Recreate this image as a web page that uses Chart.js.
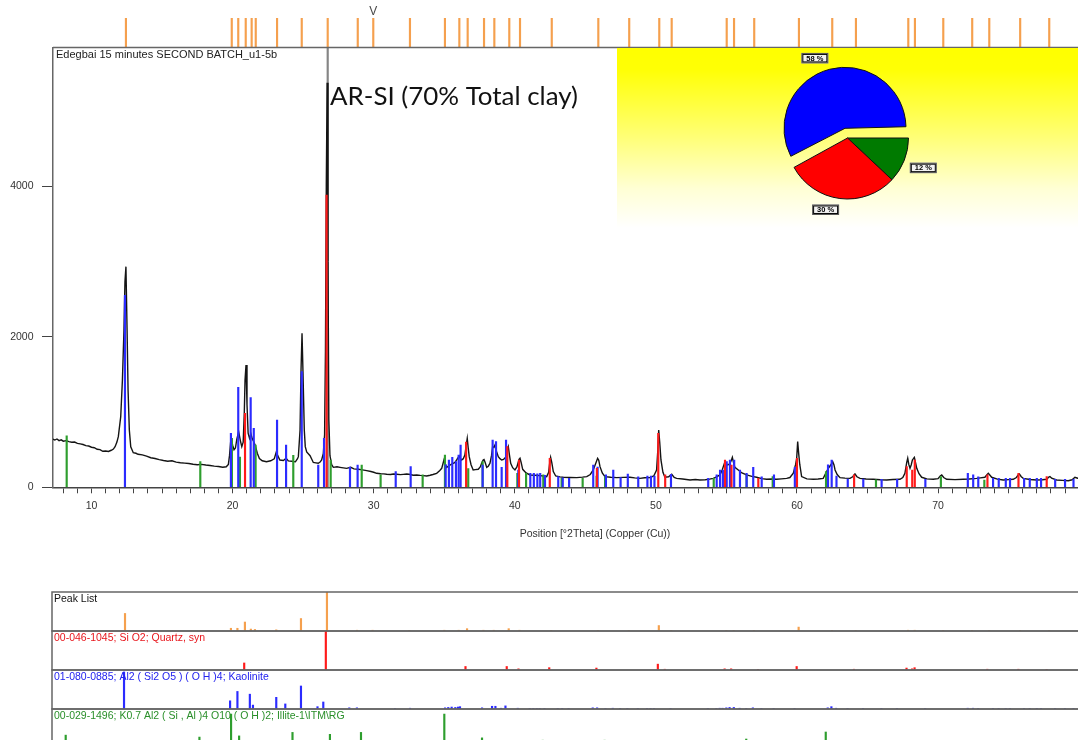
<!DOCTYPE html>
<html>
<head>
<meta charset="utf-8">
<title>Edegbai 15 minutes SECOND BATCH_u1-5b</title>
<script src="https://cdn.jsdelivr.net/npm/chart.js@4.4.0/dist/chart.umd.min.js"></script>
<style>
  html, body { margin: 0; padding: 0; background: #fff; overflow: hidden; }
  #stage { position: relative; width: 1078px; height: 740px; overflow: hidden; background: #fff; }
  #stage canvas { position: absolute; }
</style>
</head>
<body>
<div id="stage">
  <canvas id="markers" width="1140" height="48" style="left:0;top:0;width:1140px;height:48px"></canvas>
  <canvas id="main" width="1140" height="520" style="left:0;top:40px;width:1140px;height:520px"></canvas>
  <canvas id="pie" width="461" height="180" style="left:617px;top:48px;width:461px;height:180px"></canvas>
</div>
<script>
// ---- measured pattern: [°2Theta, counts] ----
const pattern = [
  [7.27,640],[7.40,628],[7.55,642],[7.70,620],[7.85,630],[8.00,612],[8.20,619],[8.40,606],[8.60,598],[8.80,601],
  [9.00,584],[9.20,577],[9.40,568],[9.60,553],[9.80,548],[10.00,532],[10.20,526],[10.40,505],[10.60,500],[10.80,478],
  [11.00,482],[11.20,476],[11.40,492],[11.55,508],[11.67,539],[11.80,600],[11.90,672],[12.07,938],[12.19,1425],[12.30,2088],
  [12.37,2730],[12.44,2930],[12.52,2088],[12.59,1292],[12.68,761],[12.78,539],[12.96,460],[13.15,452],[13.30,438],[13.60,430],
  [13.90,415],[14.20,393],[14.50,382],[14.80,368],[15.10,356],[15.40,346],[15.70,352],[16.00,334],[16.30,326],[16.60,321],
  [16.90,316],[17.20,306],[17.50,300],[17.80,305],[18.10,296],[18.40,290],[18.70,281],[19.00,277],[19.30,266],[19.55,272],
  [19.70,305],[19.78,420],[19.86,600],[19.92,640],[20.00,560],[20.10,498],[20.20,522],[20.30,640],[20.43,738],[20.55,620],
  [20.65,540],[20.75,600],[20.83,1000],[20.88,1420],[20.95,1624],[21.02,1100],[21.10,720],[21.20,650],[21.30,708],[21.40,640],
  [21.50,605],[21.60,560],[21.75,452],[21.90,382],[22.10,352],[22.40,340],[22.70,352],[22.95,378],[23.10,473],[23.20,420],
  [23.35,362],[23.60,356],[23.79,385],[23.95,350],[24.20,345],[24.45,338],[24.60,380],[24.66,407],[24.78,761],[24.85,1557],
  [24.92,2044],[24.99,1513],[25.08,761],[25.15,540],[25.25,470],[25.49,420],[25.72,330],[25.90,325],[26.07,319],[26.20,335],
  [26.31,363],[26.43,451],[26.52,700],[26.58,1800],[26.64,4000],[26.70,5371],[26.76,3000],[26.82,900],[26.90,420],[27.02,300],
  [27.14,265],[27.40,272],[27.61,265],[27.85,258],[28.08,252],[28.37,265],[28.60,245],[28.91,239],[29.20,232],[29.50,221],
  [29.80,210],[30.00,200],[30.21,186],[30.50,180],[30.70,178],[30.92,173],[31.20,170],[31.40,176],[31.63,173],[31.90,168],
  [32.10,172],[32.34,177],[32.60,170],[32.80,160],[33.05,164],[33.30,158],[33.50,155],[33.76,150],[34.00,160],[34.20,170],
  [34.46,186],[34.65,215],[34.82,252],[34.98,363],[35.10,300],[35.17,265],[35.30,280],[35.41,296],[35.55,310],[35.64,319],
  [35.76,330],[35.88,363],[35.97,390],[36.06,416],[36.15,380],[36.23,363],[36.35,380],[36.46,429],[36.56,560],[36.63,650],
  [36.70,520],[36.77,407],[36.90,300],[37.05,230],[37.20,235],[37.41,239],[37.55,270],[37.65,319],[37.76,363],[37.82,370],
  [37.90,330],[38.01,265],[38.12,280],[38.24,319],[38.35,420],[38.43,540],[38.52,530],[38.60,562],[38.70,480],[38.83,407],
  [38.95,380],[39.07,363],[39.20,370],[39.30,390],[39.38,407],[39.47,500],[39.54,540],[39.62,430],[39.71,319],[39.85,260],
  [40.01,230],[40.15,270],[40.30,370],[40.37,385],[40.45,330],[40.56,239],[40.80,190],[41.08,164],[41.40,160],[41.79,155],
  [42.00,150],[42.26,142],[42.40,200],[42.48,330],[42.54,398],[42.62,330],[42.73,208],[42.90,150],[43.20,138],[43.44,133],
  [43.90,130],[44.39,128],[44.80,135],[45.10,142],[45.35,170],[45.56,230],[45.70,300],[45.87,385],[45.95,360],[46.04,274],
  [46.20,190],[46.39,142],[46.80,133],[47.22,128],[47.70,132],[48.16,133],[48.50,125],[48.87,119],[49.20,126],[49.58,128],
  [49.85,150],[50.05,230],[50.14,500],[50.20,761],[50.27,600],[50.36,363],[50.50,200],[50.64,133],[50.90,140],[51.12,173],
  [51.30,130],[51.47,119],[51.90,110],[52.42,97],[52.80,104],[53.12,97],[53.50,100],[53.80,108],[54.07,119],[54.30,140],
  [54.54,164],[54.70,230],[54.90,341],[55.06,296],[55.15,300],[55.25,319],[55.35,360],[55.42,398],[55.50,330],[55.60,265],
  [55.84,230],[56.10,190],[56.43,164],[56.80,145],[57.14,133],[57.50,115],[57.85,106],[58.20,110],[58.56,106],[58.90,112],
  [59.27,119],[59.50,130],[59.74,186],[59.90,300],[59.98,385],[60.05,606],[60.12,450],[60.20,300],[60.33,142],[60.70,112],
  [61.16,106],[61.50,110],[61.86,119],[62.10,208],[62.25,260],[62.39,296],[62.53,341],[62.62,300],[62.70,230],[62.85,170],
  [63.05,128],[63.40,122],[63.76,119],[63.95,140],[64.11,177],[64.25,140],[64.47,119],[64.90,110],[65.41,106],[65.90,100],
  [66.36,97],[66.80,104],[67.30,106],[67.50,130],[67.65,186],[67.78,330],[67.85,385],[67.93,300],[68.01,252],[68.10,300],
  [68.18,363],[68.25,380],[68.32,398],[68.40,330],[68.49,252],[68.65,180],[68.84,133],[69.20,112],[69.66,106],[70.00,115],
  [70.15,150],[70.26,164],[70.40,130],[70.61,106],[71.20,102],[71.79,106],[72.20,110],[72.74,119],[73.00,125],[73.32,133],
  [73.45,165],[73.56,186],[73.68,160],[73.80,133],[74.20,108],[74.62,97],[75.00,102],[75.33,106],[75.55,130],[75.70,170],
  [75.76,177],[75.90,140],[76.04,119],[76.50,104],[76.99,97],[77.40,100],[77.70,106],[77.85,135],[77.93,142],[78.05,120],
  [78.40,97],[78.80,92],[79.23,88],[79.50,100],[79.70,133],[79.90,120],[80.20,105]
];

// ---- peak list (°2Theta) and relative heights (%) ----
const peakListPos = [12.44,19.94,20.40,20.93,21.35,21.64,23.15,24.90,26.74,28.87,29.97,32.57,35.05,36.07,36.66,37.82,38.55,39.61,40.37,42.62,
  45.92,48.11,50.24,51.12,55.02,55.54,56.97,60.14,62.50,64.18,67.89,68.36,70.37,72.42,73.63,75.82,77.88];
const peakListRel = [45,7,7,23,5,4,3,32,100,2,2,1.5,2,2,6,2,2,6,2,1.5,
  1.5,1.5,14,1.5,1.5,1.5,1.5,10,1.5,1.5,2,2,1.5,1.5,1.5,1.5,1.5];

// ---- 00-046-1045 Quartz ----
const quartzPos    = [20.88,26.66,36.55,39.47,40.30,42.48,45.82,50.17,50.66,54.90,55.36,57.26,60.00,64.05,67.78,68.17,68.35,73.50,75.70,77.70];
const quartzCounts = [982,3880,600,540,363,385,252,717,164,363,296,119,385,164,274,230,363,164,186,142];
const quartzRel    = [18,100,9,9,3,6,5,15,2,3,3,1.5,9,2,5,3,6,2,2,1.5];

// ---- 01-080-0885 Kaolinite ----
const kaolinPos = [12.37,19.88,20.40,21.28,21.50,23.15,23.79,24.90,26.07,26.48,28.32,28.86,31.56,32.62,35.10,35.33,35.57,35.83,36.02,36.16,
  37.72,38.43,38.67,39.07,39.38,40.25,41.10,41.35,41.60,41.80,42.14,43.08,43.40,43.85,45.56,45.87,46.46,46.98,47.50,48.01,
  48.75,49.40,49.65,49.90,51.07,53.71,54.31,54.55,54.75,55.02,55.25,55.55,55.96,56.43,56.90,57.50,58.37,59.85,62.20,62.46,
  62.80,63.60,64.70,66.00,67.10,69.10,72.11,72.49,72.85,73.90,74.30,74.80,75.10,76.10,76.50,77.00,77.30,78.30,79.00,79.60];
const kaolinCounts = [2550,717,1327,1190,783,893,562,1535,296,650,270,296,208,274,300,363,398,341,429,562,
  296,628,606,265,628,230,186,186,180,186,160,142,125,120,296,270,164,230,130,177,
  140,150,150,150,173,119,164,230,230,341,363,363,230,186,265,140,164,265,300,363,
  150,110,110,105,105,105,186,164,140,119,119,119,119,119,119,119,119,105,105,105];
const kaolinRel = [95,21,45,38,10,30,13,59,6,18,3,3,1.5,2,3,4,5,4,5,6,
  3,7,7,2,8,2,1.5,1.5,1.5,1.5,1.5,1.5,1.5,1.5,3,3,1.5,2,1.5,1.5,
  1.5,1.5,1.5,1.5,1.5,1.5,1.5,2,2,3,4,4,2,1.5,3,1.5,1.5,1.5,3,6,
  2,1.5,1.5,1.5,1.5,1.5,2,2,1.5,1.5,1.5,1.5,1.5,1.5,1.5,1.5,1.5,1.5,1.5,1.5];

// ---- 00-029-1496 Illite ----
const illitePos    = [8.24,17.71,19.95,20.52,21.63,24.30,26.95,29.15,30.49,33.47,35.05,36.70,37.72,40.18,40.80,42.02,43.32,44.81,45.80,46.40,
  54.10,56.43,58.28,62.06,65.60,70.20,73.28];
const illiteCounts = [685,340,650,400,560,425,363,296,164,164,429,250,341,186,186,164,119,119,150,142,
  119,164,142,208,100,142,97];
const illiteRel    = [33,28,87,31,13,40,35,40,13,10,87,18,26,10,13,20,18,12,18,20,
  10,23,10,41,8,10,18];

const stripLabels = [
  'Peak List',
  '00-046-1045; Si O2; Quartz, syn',
  '01-080-0885; Al2 ( Si2 O5 ) ( O H )4; Kaolinite',
  '00-029-1496; K0.7 Al2 ( Si , Al )4 O10 ( O H )2; Illite-1\\ITM\\RG'
];

// ---- pie: phase percentages (green, red, blue) ----
const pieValues  = [12, 30, 58];
const pieExplode = [0, 0, 40];

const sampleName = 'Edegbai 15 minutes SECOND BATCH_u1-5b';
const noteText = 'AR-SI (70% Total clay)';
const xTickValues = [8,9,10,11,12,13,14,15,16,17,18,19,20,21,22,23,24,25,26,27,28,29,30,31,32,33,34,35,36,37,38,39,40,
  41,42,43,44,45,46,47,48,49,50,51,52,53,54,55,56,57,58,59,60,61,62,63,64,65,66,67,68,69,70,71,72,73,74,75,76,77,78,79,80,81,82,83,84];
const yTickValues = [0, 2000, 4000];
const cursorPos = 26.74;   // vertical marker through the main quartz line
const scanMarkPos = 29.97; // "V" marker position

// ---- drawing setup ----
const X_MIN = 7.27, X_MAX = 84.1, Y_MAX = 5840;
const FONT = '"Liberation Sans", Arial, sans-serif';
const C = {
  frame: '#666666', tick: '#444444', text: '#333333',
  orange: '#f5a04e', red: '#ff1a1a', blue: '#2b2bff', green: '#2e9e2e', line: '#141414', cursor: '#858585'
};
Chart.defaults.font.family = FONT;
Chart.defaults.font.size = 10.5;
Chart.defaults.color = C.text;

const xy = (pos, vals) => pos.map((p, i) => ({ x: p, y: vals[i] }));
const stickSet = (pos, vals, color, order) => ({
  type: 'bar', data: xy(pos, vals), backgroundColor: color, borderWidth: 0,
  barThickness: 1.5, grouped: false, order
});
const noUi = { legend: { display: false }, tooltip: { enabled: false } };
const stage = document.getElementById('stage');

// ---- peak markers above the frame ----
const markerText = {
  id: 'markerText',
  afterDraw(chart) {
    const { ctx } = chart;
    ctx.save();
    ctx.fillStyle = '#4a4a4a';
    ctx.font = '12px ' + FONT;
    ctx.textAlign = 'center';
    ctx.textBaseline = 'middle';
    ctx.fillText('V', chart.scales.x.getPixelForValue(scanMarkPos), 12);
    ctx.restore();
  }
};
new Chart(document.getElementById('markers'), {
  type: 'bar',
  data: { datasets: [stickSet(peakListPos, peakListPos.map(() => 1), C.orange, 1)] },
  options: {
    responsive: false, animation: false, events: [],
    layout: { padding: { left: 53, right: 3, top: 18, bottom: 0 } },
    plugins: noUi,
    scales: {
      x: { type: 'linear', min: X_MIN, max: X_MAX, offset: false, display: false },
      y: { min: 0, max: 1, display: false }
    }
  },
  plugins: [markerText]
});

// ---- main diffractogram ----
const mainDecor = {
  id: 'mainDecor',
  afterDraw(chart) {
    const { ctx, chartArea: a } = chart;
    ctx.save();
    ctx.strokeStyle = C.frame;
    ctx.lineWidth = 1.5;
    ctx.beginPath();
    ctx.moveTo(a.left, a.top);
    ctx.lineTo(chart.width, a.top);
    ctx.stroke();

    ctx.fillStyle = '#222';
    ctx.font = '11px ' + FONT;
    ctx.textBaseline = 'middle';
    ctx.textAlign = 'left';
    ctx.fillText(sampleName, a.left + 3, a.top + 7.5);

    ctx.font = '100px Lato, "Open Sans", sans-serif';
    const w = ctx.measureText(noteText).width;
    const size = 100 * 248 / w;
    ctx.font = size.toFixed(2) + 'px Lato, "Open Sans", sans-serif';
    ctx.fillStyle = '#111';
    ctx.textBaseline = 'alphabetic';
    ctx.fillText(noteText, 330, 64.5);
    ctx.restore();
  }
};

new Chart(document.getElementById('main'), {
  data: {
    datasets: [
      { type: 'bar', data: [{ x: cursorPos, y: Y_MAX }], backgroundColor: C.cursor, borderWidth: 0,
        barThickness: 1.5, grouped: false, order: 6 },
      { type: 'line', data: pattern.map(([x, y]) => ({ x, y })), borderColor: C.line, borderWidth: 1.4,
        pointRadius: 0, tension: 0, fill: false, order: 5 },
      stickSet(illitePos, illiteCounts, C.green, 3),
      stickSet(kaolinPos, kaolinCounts, C.blue, 2),
      stickSet(quartzPos, quartzCounts, C.red, 1)
    ]
  },
  options: {
    responsive: false, animation: false, events: [],
    layout: { padding: { left: 0, right: 3, top: 7.5, bottom: 0 } },
    plugins: noUi,
    scales: {
      x: {
        type: 'linear', min: X_MIN, max: X_MAX, offset: false,
        grid: { drawOnChartArea: false, drawTicks: true, tickLength: 6, color: C.tick, offset: false },
        border: { color: '#444', width: 1.5 },
        ticks: {
          autoSkip: false, maxRotation: 0, includeBounds: false, padding: 7, color: C.text,
          callback: v => (v % 10 === 0 && v < 80) ? String(v) : ''
        },
        afterBuildTicks: s => { s.ticks = xTickValues.map(v => ({ value: v })); },
        title: { display: true, text: 'Position [°2Theta] (Copper (Cu))', color: C.text,
                 font: { size: 10.5 }, padding: { top: 0, bottom: 19.7 } },
        afterFit: s => { s.height = 72.7; s.paddingLeft = 0; s.paddingRight = 0; }
      },
      y: {
        type: 'linear', min: 0, max: Y_MAX,
        grid: { drawOnChartArea: false, drawTicks: true, tickLength: 11, color: C.tick },
        border: { color: C.frame, width: 1.5 },
        ticks: { padding: 8.5, color: C.text, callback: v => String(v) },
        afterBuildTicks: s => { s.ticks = yTickValues.map(v => ({ value: v })); },
        afterFit: s => { s.width = 53; s.paddingTop = 0; s.paddingBottom = 0; }
      }
    }
  },
  plugins: [mainDecor]
});

// ---- phase pie on a yellow panel ----
const PIE_R = 61;
const pieDecor = {
  id: 'pieDecor',
  beforeDraw(chart) {
    const { ctx, width, height } = chart;
    const g = ctx.createLinearGradient(0, 0, 0, height);
    g.addColorStop(0, '#ffff00');
    g.addColorStop(0.12, '#ffff05');
    g.addColorStop(0.5, '#ffff78');
    g.addColorStop(0.78, '#ffffd4');
    g.addColorStop(1, '#ffffff');
    ctx.save();
    ctx.fillStyle = g;
    ctx.fillRect(0, 0, width, height);
    ctx.restore();
  },
  afterDatasetsUpdate(chart) {
    // keep exploded slices at the same radius as the others
    chart.getDatasetMeta(0).data.forEach(arc => {
      const off = (arc.options.offset || 0) / 4;
      if (off) arc.outerRadius -= off * (1 - Math.sin(Math.min(Math.PI, arc.circumference)));
    });
  },
  afterDatasetsDraw(chart) {
    const { ctx } = chart;
    const total = pieValues.reduce((s, v) => s + v, 0);
    ctx.save();
    ctx.font = 'bold 7.5px ' + FONT;
    ctx.textAlign = 'center';
    ctx.textBaseline = 'middle';
    chart.getDatasetMeta(0).data.forEach((arc, i) => {
      const mid = (arc.startAngle + arc.endAngle) / 2;
      const off = (arc.options.offset || 0) / 4;
      const cx = arc.x + Math.cos(mid) * off, cy = arc.y + Math.sin(mid) * off;
      const px = cx + Math.cos(mid) * (PIE_R + 6), py = cy + Math.sin(mid) * (PIE_R + 6);
      const bw = 27, bh = 10.5;
      const bx = Math.cos(mid) < 0 ? px - bw : px;
      const by = Math.sin(mid) < 0 ? py - bh : py;
      ctx.fillStyle = '#f2f2f2';
      ctx.fillRect(bx, by, bw, bh);
      ctx.strokeStyle = '#555';
      ctx.lineWidth = 1;
      ctx.strokeRect(bx + 0.5, by + 0.5, bw - 1, bh - 1);
      ctx.strokeStyle = '#000';
      ctx.strokeRect(bx + 1.5, by + 1.5, bw - 3, bh - 3);
      ctx.fillStyle = '#000';
      ctx.fillText(Math.round(pieValues[i] / total * 100) + ' %', bx + bw / 2, by + bh / 2 + 0.5);
    });
    ctx.restore();
  }
};
new Chart(document.getElementById('pie'), {
  type: 'pie',
  data: {
    labels: ['Illite', 'Quartz', 'Kaolinite'],
    datasets: [{
      data: pieValues, backgroundColor: ['#007a00', '#ff0000', '#0000ff'],
      borderColor: '#111', borderWidth: 1, offset: pieExplode
    }]
  },
  options: {
    responsive: false, animation: false, events: [],
    rotation: 90, radius: PIE_R,
    layout: { padding: 0 },
    plugins: noUi
  },
  plugins: [pieDecor]
});

// ---- reference pattern strips ----
const stripTops = [592, 631, 670, 709];
const strips = [
  { pos: peakListPos, rel: peakListRel, color: C.orange, text: '#111111' },
  { pos: quartzPos,   rel: quartzRel,   color: C.red,    text: '#e8161c' },
  { pos: kaolinPos,   rel: kaolinRel,   color: C.blue,   text: '#2222ee' },
  { pos: illitePos,   rel: illiteRel,   color: C.green,  text: '#2a8f2a' }
];
strips.forEach((s, i) => {
  const cv = document.createElement('canvas');
  cv.width = 1140; cv.height = 45;
  cv.style.cssText = 'left:0;top:' + (stripTops[i] - 3) + 'px;width:1140px;height:45px';
  stage.appendChild(cv);
  const frame = {
    id: 'stripFrame' + i,
    afterDraw(chart) {
      const { ctx, chartArea: a } = chart;
      ctx.save();
      ctx.strokeStyle = C.frame;
      ctx.lineWidth = 1.5;
      ctx.beginPath();
      ctx.moveTo(chart.width, a.top); ctx.lineTo(a.left, a.top); ctx.lineTo(a.left, a.bottom); ctx.lineTo(chart.width, a.bottom);
      ctx.stroke();
      ctx.fillStyle = s.text;
      ctx.font = '10.5px ' + FONT;
      ctx.textBaseline = 'middle';
      ctx.fillText(stripLabels[i], a.left + 2, a.top + 7.3);
      ctx.restore();
    }
  };
  new Chart(cv, {
    type: 'bar',
    data: { datasets: [stickSet(s.pos, s.rel, s.color, 1)] },
    options: {
      responsive: false, animation: false, events: [],
      layout: { padding: { left: 52, right: 3, top: 3, bottom: 3 } },
      plugins: noUi,
      scales: {
        x: { type: 'linear', min: X_MIN, max: X_MAX, offset: false, display: false },
        y: { min: 0, max: 100, display: false }
      }
    },
    plugins: [frame]
  });
});
</script>
</body>
</html>
